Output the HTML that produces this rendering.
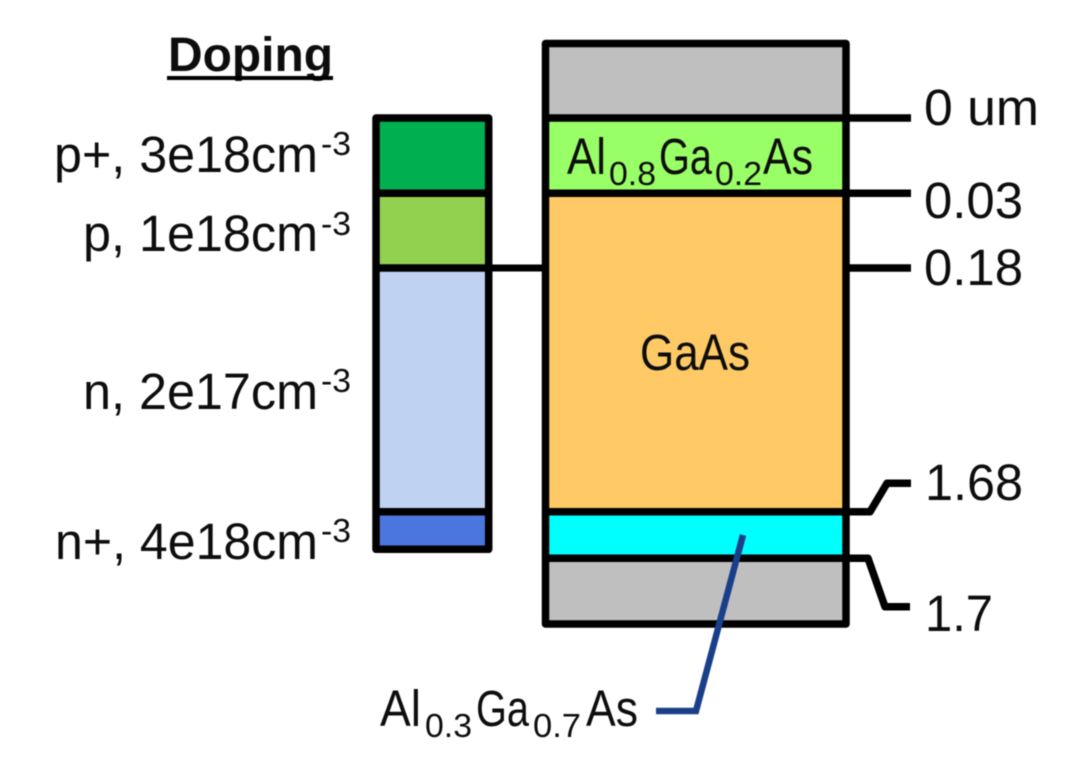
<!DOCTYPE html>
<html><head><meta charset="utf-8"><style>
html,body{margin:0;padding:0;background:#fff;width:1070px;height:770px;overflow:hidden}
svg{display:block;filter:blur(.45px)}
text{font-family:"Liberation Sans",sans-serif;fill:#0d0d0d}
.m{font-size:51px}.s{font-size:33px}
</style></head><body>
<svg width="1070" height="770" viewBox="0 0 1070 770" xmlns="http://www.w3.org/2000/svg">
<!-- left bar fills -->
<rect x="376" y="118" width="113" height="75" fill="#00b050"/>
<rect x="376" y="193" width="113" height="75" fill="#92d050"/>
<rect x="376" y="268" width="113" height="244" fill="#c0d2f2"/>
<rect x="376" y="512" width="113" height="37" fill="#4a76dd"/>
<g fill="none" stroke="#000" stroke-width="7.5" stroke-linejoin="round">
<rect x="376" y="118" width="112.7" height="431.3"/>
<path d="M376 193.3H488.7M376 268H488.7M376 511.8H488.7"/>
<path d="M488.7 268H546" stroke-width="7"/>
</g>
<!-- right stack fills -->
<rect x="545.5" y="43.5" width="300.5" height="74.5" fill="#bfbfbf"/>
<rect x="545.5" y="118" width="300.5" height="75" fill="#99ff66"/>
<rect x="545.5" y="193" width="300.5" height="319" fill="#ffc966"/>
<rect x="545.5" y="512" width="300.5" height="46" fill="#00ffff"/>
<rect x="545.5" y="558" width="300.5" height="66" fill="#bfbfbf"/>
<g fill="none" stroke="#000" stroke-width="7.5" stroke-linejoin="round">
<rect x="545.5" y="43.5" width="300.5" height="580.5"/>
<path d="M545.5 118H911M545.5 193.3H911M846 268H911M545.5 511.8H870L887 483.3H911M545.5 558.3H868L885 606.7H910"/>
</g>
<path d="M743 535L696 711H656" fill="none" stroke="#1a3f8a" stroke-width="6.5"/>
<!-- heading -->
<text x="168" y="71" font-weight="bold" style="font-size:48px" textLength="165" lengthAdjust="spacingAndGlyphs">Doping</text>
<rect x="167" y="76" width="166" height="4" fill="#000"/>
<!-- doping labels -->
<text x="54" y="172" class="m" textLength="264" lengthAdjust="spacingAndGlyphs">p+, 3e18cm</text>
<text x="321" y="155" class="s" textLength="30" lengthAdjust="spacingAndGlyphs">-3</text>
<text x="83" y="251" class="m" textLength="235" lengthAdjust="spacingAndGlyphs">p, 1e18cm</text>
<text x="321" y="235" class="s" textLength="30" lengthAdjust="spacingAndGlyphs">-3</text>
<text x="83" y="409" class="m" textLength="235" lengthAdjust="spacingAndGlyphs">n, 2e17cm</text>
<text x="321" y="392" class="s" textLength="30" lengthAdjust="spacingAndGlyphs">-3</text>
<text x="55" y="559" class="m" textLength="263" lengthAdjust="spacingAndGlyphs">n+, 4e18cm</text>
<text x="321" y="542" class="s" textLength="30" lengthAdjust="spacingAndGlyphs">-3</text>
<!-- Al0.8Ga0.2As -->
<text x="567" y="174" class="m" textLength="39" lengthAdjust="spacingAndGlyphs">Al</text>
<text x="609" y="185" class="s" textLength="47" lengthAdjust="spacingAndGlyphs">0.8</text>
<text x="659" y="174" class="m" textLength="53" lengthAdjust="spacingAndGlyphs">Ga</text>
<text x="715" y="185" class="s" textLength="47" lengthAdjust="spacingAndGlyphs">0.2</text>
<text x="763" y="174" class="m" textLength="50" lengthAdjust="spacingAndGlyphs">As</text>
<!-- GaAs -->
<text x="640" y="370" class="m" textLength="110" lengthAdjust="spacingAndGlyphs">GaAs</text>
<!-- Al0.3Ga0.7As -->
<text x="380" y="726" class="m" textLength="41" lengthAdjust="spacingAndGlyphs">Al</text>
<text x="425" y="737" class="s" textLength="47" lengthAdjust="spacingAndGlyphs">0.3</text>
<text x="476" y="726" class="m" textLength="53" lengthAdjust="spacingAndGlyphs">Ga</text>
<text x="533" y="737" class="s" textLength="48" lengthAdjust="spacingAndGlyphs">0.7</text>
<text x="586" y="726" class="m" textLength="52" lengthAdjust="spacingAndGlyphs">As</text>
<!-- depth labels -->
<text x="924" y="125" class="m" textLength="115" lengthAdjust="spacingAndGlyphs">0 um</text>
<text x="924" y="218" class="m" textLength="99" lengthAdjust="spacingAndGlyphs">0.03</text>
<text x="924" y="285" class="m" textLength="99" lengthAdjust="spacingAndGlyphs">0.18</text>
<text x="925" y="500" class="m" textLength="98" lengthAdjust="spacingAndGlyphs">1.68</text>
<text x="925" y="631" class="m" textLength="68" lengthAdjust="spacingAndGlyphs">1.7</text>
</svg>
</body></html>
